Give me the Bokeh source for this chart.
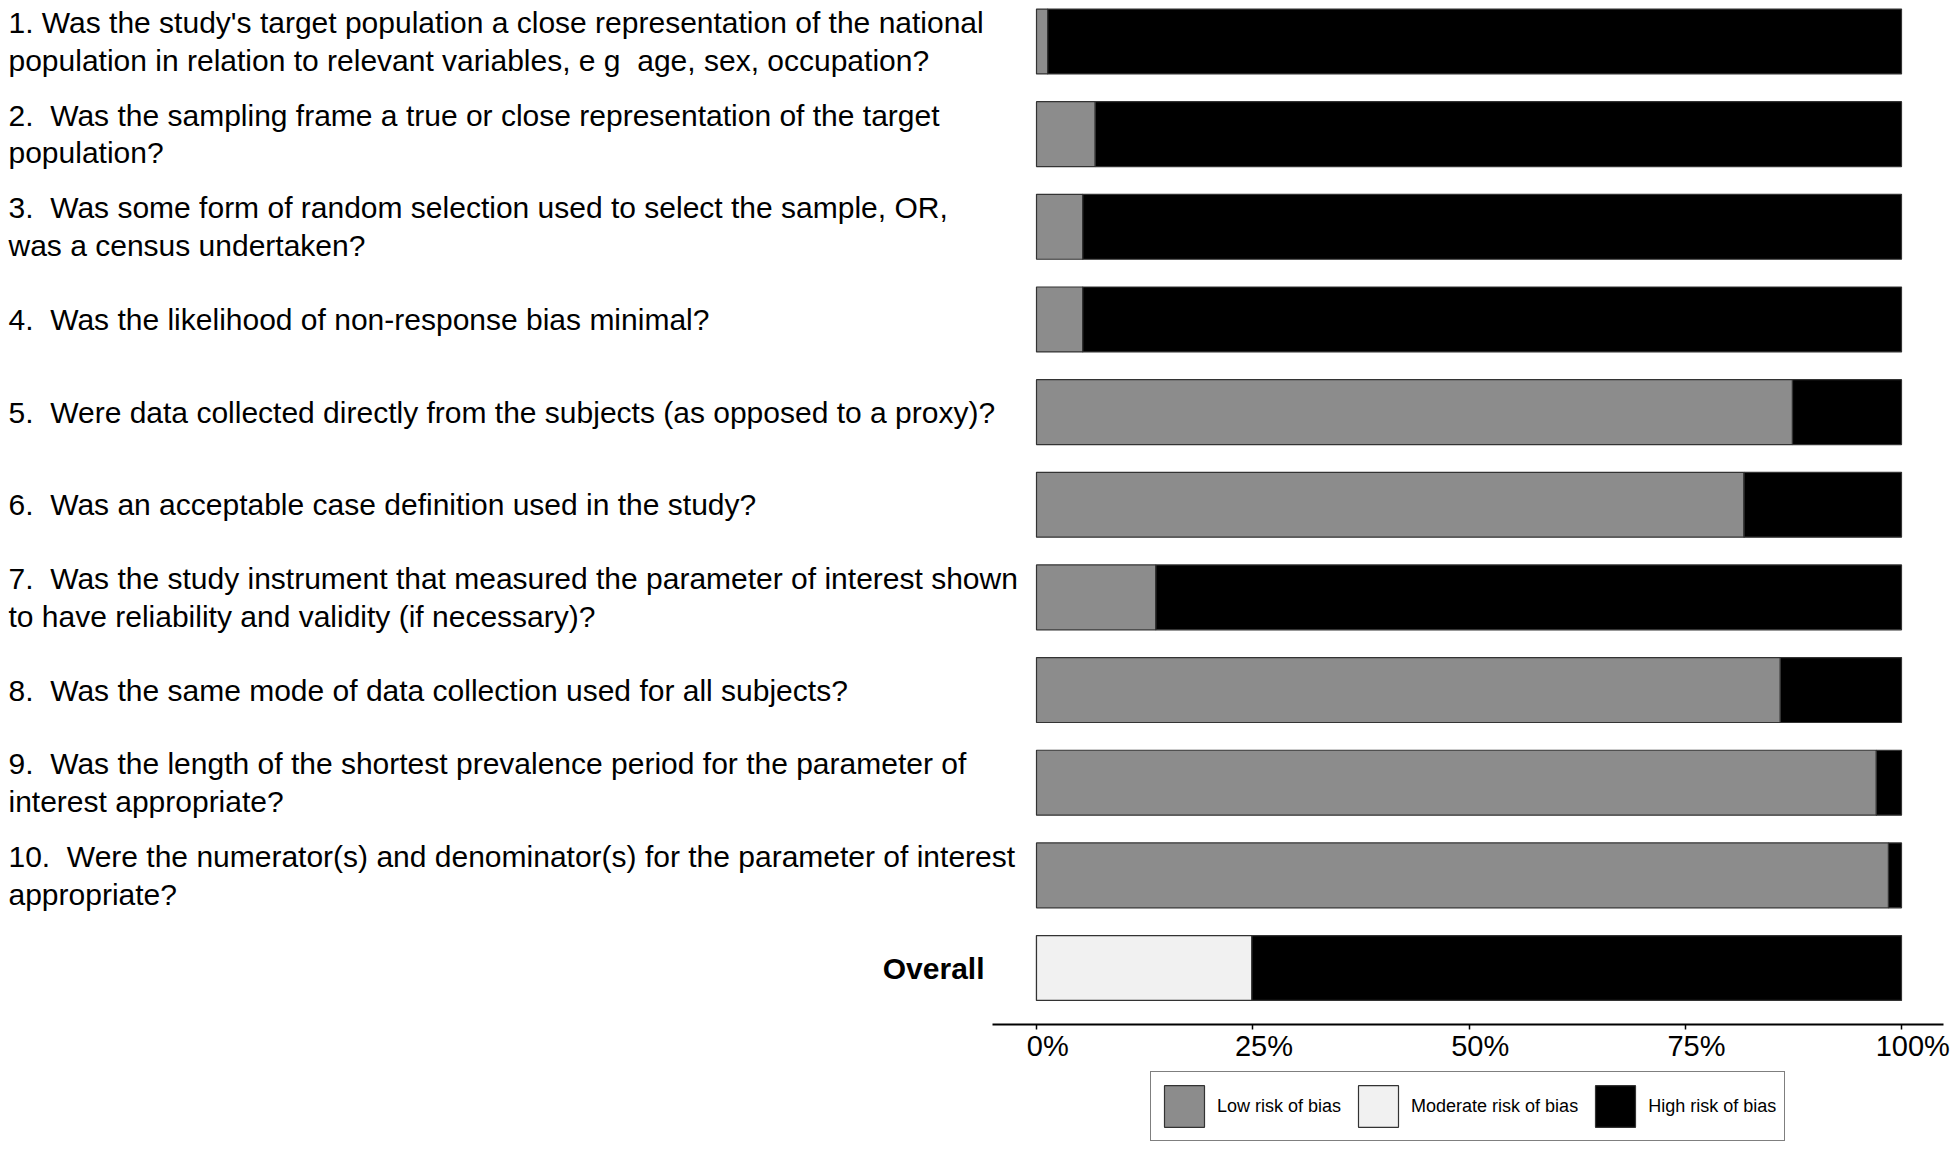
from bokeh.plotting import figure
from bokeh.layouts import column
from bokeh.models import (Range1d, ColumnDataSource, Legend, LegendItem, FixedTicker, LinearAxis)
from bokeh.core.properties import value
from bokeh.embed import file_html
from bokeh.resources import INLINE

# ---- data ----
NB = "\u00a0"
questions = [
    "1. Was the study's target population a close representation of the national\npopulation in relation to relevant variables, e g " + NB + "age, sex, occupation?",
    "2. " + NB + "Was the sampling frame a true or close representation of the target\npopulation?",
    "3. " + NB + "Was some form of random selection used to select the sample, OR,\nwas a census undertaken?",
    "4. " + NB + "Was the likelihood of non-response bias minimal?",
    "5. " + NB + "Were data collected directly from the subjects (as opposed to a proxy)?",
    "6. " + NB + "Was an acceptable case definition used in the study?",
    "7. " + NB + "Was the study instrument that measured the parameter of interest shown\nto have reliability and validity (if necessary)?",
    "8. " + NB + "Was the same mode of data collection used for all subjects?",
    "9. " + NB + "Was the length of the shortest prevalence period for the parameter of\ninterest appropriate?",
    "10. " + NB + "Were the numerator(s) and denominator(s) for the parameter of interest\nappropriate?",
]
overall_label = "Overall"
low = [1.3, 6.8, 5.35, 5.35, 87.4, 81.8, 13.8, 86.0, 97.1, 98.5, 0.0]
moderate = [0.0, 0.0, 0.0, 0.0, 0.0, 0.0, 0.0, 0.0, 0.0, 0.0, 24.9]
high = [98.7, 93.2, 94.65, 94.65, 12.6, 18.2, 86.2, 14.0, 2.9, 1.5, 75.1]
series_names = ["Low risk of bias", "Moderate risk of bias", "High risk of bias"]
tick_values = [0, 25, 50, 75, 100]
tick_labels = ["0%", "25%", "50%", "75%", "100%"]

# ---- styles / geometry ----
colors = ["#8c8c8c", "#f1f1f1", "#000000"]
OUTLINE = "#333333"
FONT = "Liberation Sans"
PX = 8.65                      # pixels per percent
ZERO_PX = 1036                 # page x of 0 %
FRAME_L, FRAME_R = 6, 1943     # page x of plot frame
AXIS_L = 992                   # page x where the axis line starts
LEGEND_L = 1150                # page x of the legend box

def to_data(px):
    return (px - ZERO_PX) / PX

n = len(low)
pos = [n - 1 - i for i in range(n)]
yr = Range1d(-0.6098, n - 1 + 0.4425)

source = ColumnDataSource(dict(y=pos, low=low, moderate=moderate, high=high))
stackers = ["low", "moderate", "high"]

p = figure(output_backend="svg", toolbar_location=None,
           frame_width=FRAME_R - FRAME_L, frame_height=1024,
           x_range=Range1d(to_data(FRAME_L), to_data(FRAME_R)), y_range=yr,
           y_axis_location=None,
           min_border_left=FRAME_L, min_border_right=9,
           min_border_top=0, min_border_bottom=0)
p.grid.visible = False
p.outline_line_color = None

p.hbar_stack(stackers, y="y", height=0.70, fill_color=colors,
             line_color=OUTLINE, line_width=1.2, source=source)

# axis line + ticks (limited to the bar area)
ax = p.xaxis[0]
ax.bounds = (to_data(AXIS_L), to_data(FRAME_R))
ax.ticker = FixedTicker(ticks=tick_values)
ax.major_label_overrides = {v: "" for v in tick_values}
ax.major_label_text_font_size = "1px"
ax.major_label_standoff = 0
ax.axis_line_width = 2
ax.axis_line_color = "black"
ax.major_tick_out = 5
ax.major_tick_in = 0
ax.major_tick_line_width = 1.5
ax.major_tick_line_color = "black"
ax.minor_tick_line_color = None

# tick labels (slightly offset to the right, as in the reference)
shift = 1.3
p.extra_x_ranges = {"lbl": Range1d(to_data(FRAME_L) - shift, to_data(FRAME_R) - shift)}
ax2 = LinearAxis(x_range_name="lbl", ticker=FixedTicker(ticks=tick_values),
                 bounds=(to_data(AXIS_L), to_data(FRAME_R)),
                 major_label_overrides={v: s for v, s in zip(tick_values, tick_labels)})
ax2.major_label_text_font = FONT
ax2.major_label_text_font_size = "29px"
ax2.major_label_text_color = "black"
ax2.major_label_standoff = 0
ax2.axis_line_color = None
ax2.major_tick_line_color = None
ax2.minor_tick_line_color = None
ax2.major_tick_out = 0
ax2.major_tick_in = 0
p.add_layout(ax2, "below")

# question labels to the left of the bars
p.text(x=[to_data(8)] * (n - 1), y=pos[:-1], text=questions, text_font=value(FONT),
       text_font_size="30px", text_baseline="middle", text_align="left",
       text_line_height=1.14, text_color="black")
p.text(x=[to_data(984)], y=[pos[-1]], text=[overall_label], text_font=value(FONT),
       text_font_size="30px", text_font_style="bold", text_baseline="middle",
       text_align="right", text_color="black")

# ---- legend strip under the axis (same frame geometry as the bar plot) ----
# the stacked bars are drawn again here only to feed the legend; ranges keep them out of view
q = figure(output_backend="svg", toolbar_location=None,
           frame_width=FRAME_R - FRAME_L, frame_height=86,
           x_range=Range1d(1000, 1001), y_range=Range1d(1000, 1001),
           x_axis_location=None, y_axis_location=None,
           min_border_left=FRAME_L, min_border_right=9, min_border_top=0, min_border_bottom=0)
q.grid.visible = False
q.outline_line_color = None
swatches = q.hbar_stack(stackers, y="y", height=0.70, fill_color=colors,
                        line_color=OUTLINE, line_width=1.2, source=source)
legend = Legend(items=[LegendItem(label=s, renderers=[r]) for s, r in zip(series_names, swatches)],
                orientation="horizontal", location=(LEGEND_L - FRAME_L, 9),
                border_line_color="black", border_line_width=1.5,
                background_fill_color="white",
                label_text_font=FONT, label_text_font_size="18px", label_text_color="black",
                glyph_width=50, glyph_height=52, padding=8, spacing=12,
                label_standoff=8, margin=0)
q.add_layout(legend, "center")

layout = column(p, q, spacing=0)
open("out.html", "w").write(file_html(layout, INLINE))
